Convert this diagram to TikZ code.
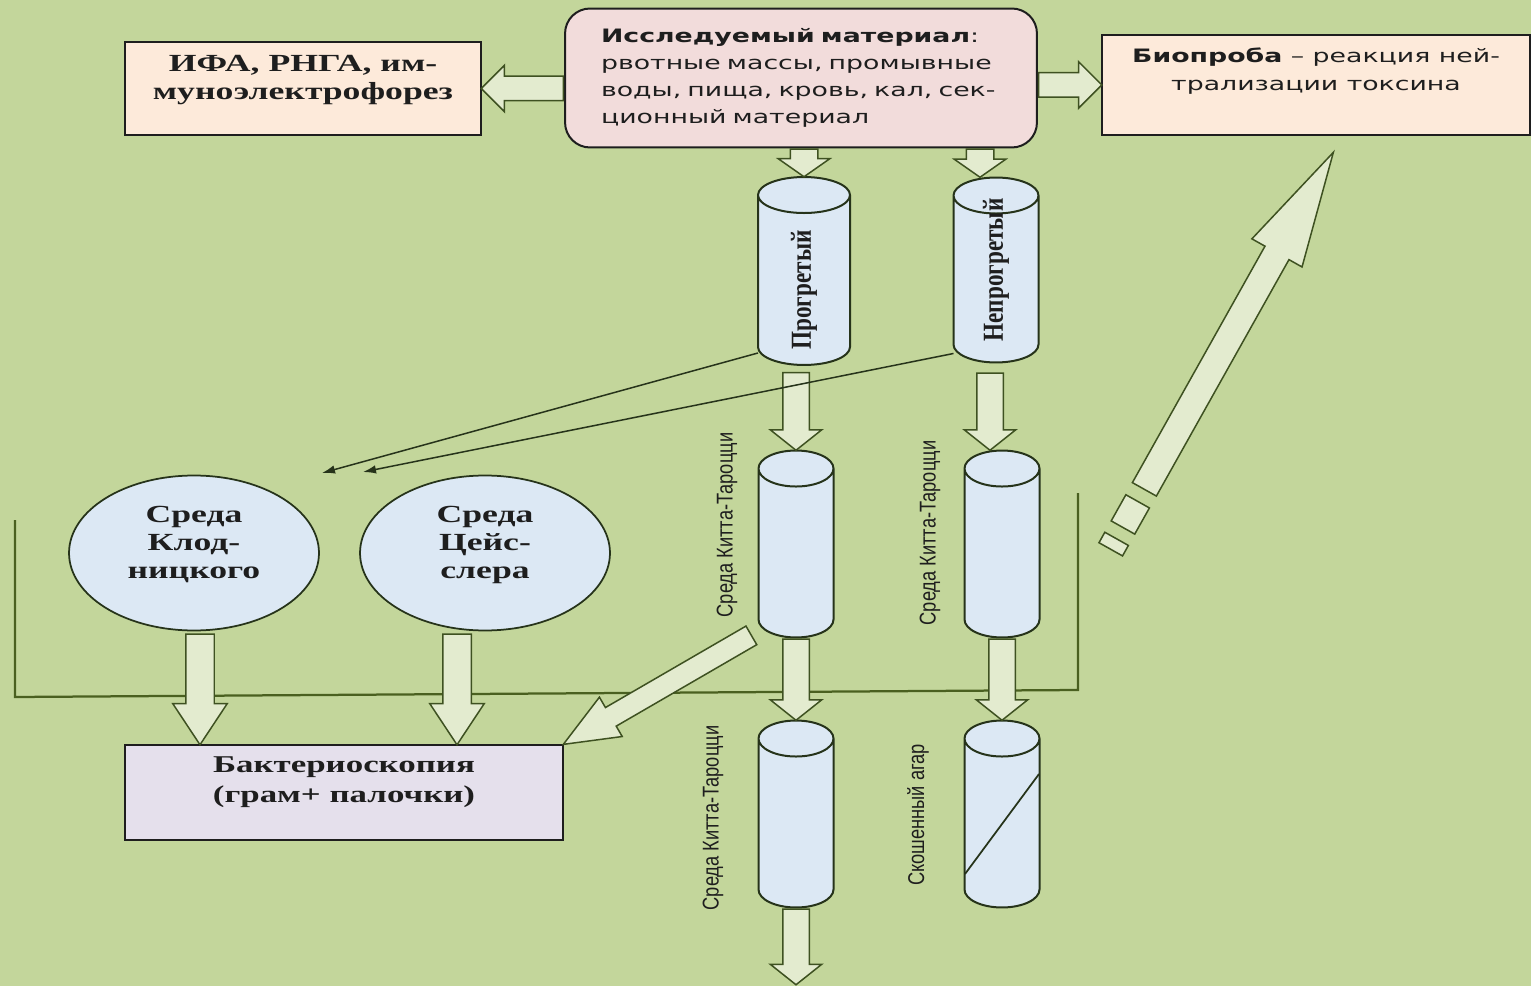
\documentclass[tikz,border=0pt]{standalone}
\usepackage{fontspec}
\setmainfont{Liberation Serif}
\newfontfamily\serifwide[FakeStretch=1.45]{Liberation Serif}
\newfontfamily\sanswide[FakeStretch=1.45]{DejaVu Sans}
\newfontfamily\serifnarrow[FakeStretch=0.8]{Liberation Serif}
\newfontfamily\sansnarrow[FakeStretch=0.8]{Liberation Sans}
\usetikzlibrary{shapes.geometric, shapes.arrows, arrows.meta, calc, positioning}

\definecolor{bg}{HTML}{C3D69B}
\definecolor{ink}{HTML}{1E1E1E}
\definecolor{matfill}{HTML}{F2DCDB}
\definecolor{peach}{HTML}{FDEADA}
\definecolor{lilac}{HTML}{E5E0EC}
\definecolor{tubefill}{HTML}{DCE8F4}
\definecolor{tubeedge}{HTML}{26331A}
\definecolor{arrowfill}{HTML}{E3EBCF}
\definecolor{arrowline}{HTML}{3E5121}
\definecolor{frameline}{HTML}{4A6020}

% block arrow between two points, length taken from the points
\newcommand{\fatarrow}[3][]{%
  \path let \p1=($(#3)-(#2)$), \n1={veclen(\x1,\y1)} in
    (#2) -- node[fat, pos=0, anchor=tail, sloped, allow upside down, minimum height=\n1, #1] {} (#3);
}

\begin{document}
\begin{tikzpicture}[x=0.02cm, y=-0.02cm,
    box/.style={rectangle, draw=ink, line width=0.4mm, align=center, text=ink, inner sep=0pt},
    matbox/.style={box, rounded corners=5mm, fill=matfill, text width=80mm, align=left,
      font={\sanswide\fontsize{10.5}{15.4}\selectfont}, minimum width=94.4mm, minimum height=27.8mm},
    ifabox/.style={box, fill=peach, font={\serifwide\bfseries\fontsize{14}{16}\selectfont},
      minimum width=71.2mm, minimum height=18.6mm, text depth=12.6pt},
    biobox/.style={box, fill=peach, font={\sanswide\fontsize{10.5}{16}\selectfont},
      minimum width=85.6mm, minimum height=20mm, text depth=18.4pt},
    baktbox/.style={box, fill=lilac, font={\serifwide\bfseries\fontsize{13.7}{17}\selectfont},
      minimum width=87.6mm, minimum height=19mm, text depth=14.9pt},
    medium/.style={ellipse, draw=tubeedge, line width=0.35mm, fill=tubefill, align=center, text=ink,
      font={\serifwide\bfseries\fontsize{14}{16}\selectfont}, minimum width=50mm, minimum height=31mm,
      inner sep=0pt, text depth=12pt},
    tube/.style={cylinder, shape border rotate=90, aspect=1, anchor=shape center, draw=tubeedge,
      line width=0.4mm, fill=tubefill, minimum width=15mm, minimum height=37.4mm, inner sep=3.6mm},
    tubetitle/.style={rotate=90, inner sep=0pt, text=ink, font={\serifnarrow\bfseries\fontsize{16.5}{18}\selectfont}},
    tubenote/.style={rotate=90, inner sep=0pt, text=ink, font={\sansnarrow\fontsize{13}{15}\selectfont}},
    fat/.style={single arrow, draw=arrowline, line width=0.3mm, fill=arrowfill, inner xsep=0pt, minimum width=0pt},
    fatside/.style={inner ysep=2.3mm, single arrow head extend=2.2mm, single arrow tip angle=90},
    fatsmall/.style={inner ysep=2.6mm, single arrow head extend=2.4mm, single arrow tip angle=110},
    fatmid/.style={inner ysep=2.5mm, single arrow head extend=2.5mm, single arrow tip angle=103},
    fatcirc/.style={inner ysep=2.7mm, single arrow head extend=2.6mm, single arrow tip angle=67},
    fatdiag/.style={inner ysep=2mm, single arrow head extend=2.4mm, single arrow tip angle=45},
    fatbig/.style={inner ysep=2.6mm, single arrow head extend=3mm, single arrow tip angle=28},
    dashbox/.style={rectangle, draw=arrowline, line width=0.3mm, fill=arrowfill, sloped, allow upside down,
      minimum height=5.4mm, inner sep=0pt},
    pointer/.style={draw=tubeedge, line width=0.3mm, -{Latex[length=2.6mm, width=1.7mm]}},
    frame/.style={draw=frameline, line width=0.45mm}
  ]

  % background
  \fill[bg] (0,0) rectangle (1531,986);
  \useasboundingbox (0,0) rectangle (1531,986);

  % frame lines behind the rest
  \draw[frame] (15,520) -- (15,697) -- (1078,690) -- (1078,493);

  % Nodes
  \node[matbox] (mat) at (801,78) {\textbf{Исследуемый материал}:\\рвотные массы, промывные\\воды, пища, кровь, кал, сек-\\ционный материал};
  \node[ifabox] (ifa) at (303,88.5) {ИФА, РНГА, им-\\муноэлектрофорез};
  \node[biobox] (bio) at (1316,85) {\textbf{Биопроба} – реакция ней-\\трализации токсина};

  \node[tube, minimum width=18.4mm, minimum height=37.6mm] (t1) at (804,271) {};
  \node[tube, minimum width=17mm, minimum height=37mm] (t2) at (996,270) {};
  \node[tube] (t3) at (796,544) {};
  \node[tube] (t4) at (1002,544) {};
  \node[tube] (t5) at (796,814) {};
  \node[tube] (t6) at (1002,814) {};
  \draw[draw=tubeedge, line width=0.35mm] ($(t6.shape center)+(-37,60)$) -- ($(t6.shape center)+(37,-40)$);

  \node[tubetitle] (l1) at (804,290) {Прогретый};
  \node[tubetitle] (l2) at (996,270) {Непрогретый};
  \node[tubenote] (l3) at (727,525) {Среда Китта-Тароцци};
  \node[tubenote] (l4) at (930,533) {Среда Китта-Тароцци};
  \node[tubenote] (l5) at (713,818) {Среда Китта-Тароцци};
  \node[tubenote] (l6) at (918,815) {Скошенный агар};

  \node[medium] (kl) at (194,553) {Среда\\Клод-\\ницкого};
  \node[medium] (ts) at (485,553) {Среда\\Цейс-\\слера};
  \node[baktbox] (bak) at (344,792.5) {Бактериоскопия\\(грам+ палочки)};

  % Coordinates for the arrows
  \coordinate (m1) at (t1.north |- mat.south);
  \coordinate (m2) at ($(t2.north |- mat.south)+(-16,0)$);
  \coordinate (m2e) at (m2 |- t2.north);
  \coordinate (p1) at ($(t3.north |- t1.south)+(0,6)$);
  \coordinate (p2) at ($(t4.north |- t2.south)+(-12,9)$);
  \coordinate (p2e) at (p2 |- t4.north);
  \coordinate (out) at (t5.south |- 0,984);
  \coordinate (k1) at ($(kl.south)+(6,2)$);
  \coordinate (k1e) at (k1 |- bak.north);
  \coordinate (k2) at ($(ts.south)+(-28,2)$);
  \coordinate (k2e) at (k2 |- bak.north);
  \coordinate (kt) at (752,635);
  \coordinate (bt) at (1144,490);
  \coordinate (btip) at ($(bio.south)+(17,17)$);
  \coordinate (bd) at ($(bt)!-1.36cm!(btip)$);
  \coordinate (f1) at ($(t1.south)+(-46,-13)$);
  \coordinate (f2) at ($(t2.south)+(-42.5,-10)$);
  \coordinate (a1) at (322,473);
  \coordinate (a2) at (363,472);

  % Block arrows
  \fatarrow[fatside]{mat.west |- ifa.east}{ifa.east}
  \fatarrow[fatside]{mat.east |- bio.west}{bio.west}
  \fatarrow[fatsmall]{m1}{t1.north}
  \fatarrow[fatsmall]{m2}{m2e}
  \fatarrow[fatmid]{p1}{t3.north}
  \fatarrow[fatmid]{p2}{p2e}
  \fatarrow[fatmid]{t3.south}{t5.north}
  \fatarrow[fatmid]{t4.south}{t6.north}
  \fatarrow[fatmid]{t5.south}{out}
  \fatarrow[fatcirc]{k1}{k1e}
  \fatarrow[fatcirc]{k2}{k2e}
  \fatarrow[fatdiag]{kt}{bak.north east}
  \fatarrow[fatbig]{bt}{btip}
  \path (bd) -- node[dashbox, pos=0.088, minimum width=2.4mm] (dash2) {}
    node[dashbox, pos=0.588, minimum width=6mm] (dash1) {} (bt);

  % Thin arrows to the media
  \draw[pointer] (f1) -- (a1);
  \draw[pointer] (f2) -- (a2);

\end{tikzpicture}
\end{document}
